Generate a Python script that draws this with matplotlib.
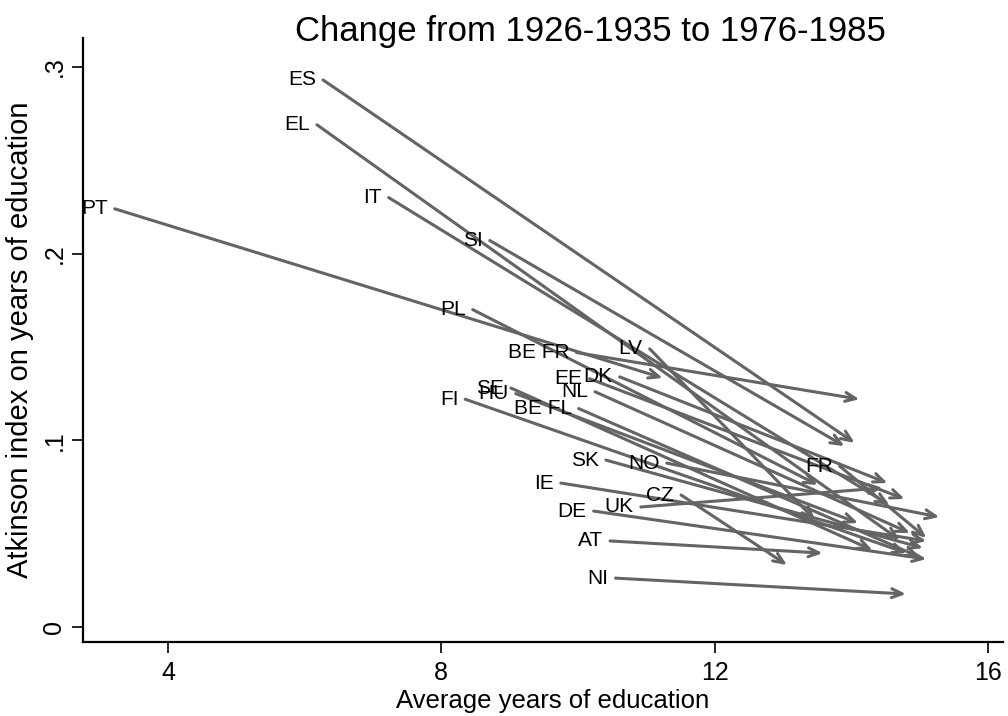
import matplotlib.pyplot as plt

plt.rcParams['font.family'] = ['Liberation Sans', 'DejaVu Sans']

# country codes, first cohort (1926-1935) and last cohort (1976-1985)
countries = ['ES', 'EL', 'IT', 'PT', 'SI', 'PL', 'BE FR', 'LV', 'EE', 'DK',
             'SE', 'HU', 'NL', 'BE FL', 'FI', 'SK', 'NO', 'IE', 'FR', 'CZ',
             'DE', 'UK', 'AT', 'NI']
edu_start = [6.27, 6.18, 7.23, 3.22, 8.71, 8.46, 9.98, 11.05, 10.17, 10.61,
             9.02, 9.09, 10.25, 10.01, 8.35, 10.41, 11.30, 9.75, 13.83, 11.51,
             10.23, 10.92, 10.47, 10.55]
atk_start = [0.293, 0.269, 0.230, 0.224, 0.207, 0.170, 0.147, 0.149, 0.133, 0.134,
             0.128, 0.125, 0.126, 0.117, 0.122, 0.0894, 0.0878, 0.0771, 0.0862, 0.0707,
             0.0621, 0.0643, 0.0461, 0.0262]
edu_end = [14.05, 14.71, 14.56, 11.24, 13.90, 13.51, 14.12, 13.47, 14.78, 14.53,
           14.31, 14.10, 14.86, 15.00, 14.81, 15.05, 15.29, 15.10, 15.10, 13.06,
           15.10, 14.46, 13.58, 14.80]
atk_end = [0.0986, 0.0466, 0.0653, 0.1334, 0.0969, 0.0761, 0.122, 0.0573, 0.0686, 0.0771,
           0.0412, 0.0557, 0.0503, 0.0375, 0.0396, 0.0423, 0.0589, 0.0461, 0.0477, 0.0332,
           0.0364, 0.0745, 0.0396, 0.0177]

ARROW = '#646464'

fig = plt.figure(figsize=(10.08, 7.16), dpi=100)
ax = fig.add_axes([0.0823, 0.1034, 0.9127, 0.8436])
ax.set_xlim(2.756, 16.22)
ax.set_ylim(-0.008, 0.3155)

for code, x0, y0, x1, y1 in zip(countries, edu_start, atk_start, edu_end, atk_end):
    ax.annotate('', xy=(x1, y1), xytext=(x0, y0),
                arrowprops=dict(arrowstyle='->,head_length=0.75,head_width=0.32',
                                color=ARROW, lw=2.2, shrinkA=0, shrinkB=0))
    ax.annotate(code, (x0, y0), xytext=(-5, 0), textcoords='offset points',
                ha='right', va='center', fontsize=15, color='black')

ax.set_xticks([4, 8, 12, 16])
ax.set_yticks([0, 0.1, 0.2, 0.3])
ax.set_yticklabels(['0', '.1', '.2', '.3'], rotation=90, va='center')
ax.tick_params(axis='both', direction='out', length=8, width=1.2,
               labelsize=18, color='black', pad=6)
ax.tick_params(axis='y', pad=4)

for side in ('top', 'right'):
    ax.spines[side].set_visible(False)
for side in ('left', 'bottom'):
    ax.spines[side].set_linewidth(1.6)

ax.set_ylabel('Atkinson index on years of education', fontsize=21, labelpad=6)
fig.text(553 / 1008, 1 - 701 / 716, 'Average years of education',
         ha='center', va='center', fontsize=18.5)
fig.text(590 / 1008, 1 - 31 / 716, 'Change from 1926-1935 to 1976-1985',
         ha='center', va='center', fontsize=25)

fig.savefig('out.png', dpi=100, facecolor='white')
